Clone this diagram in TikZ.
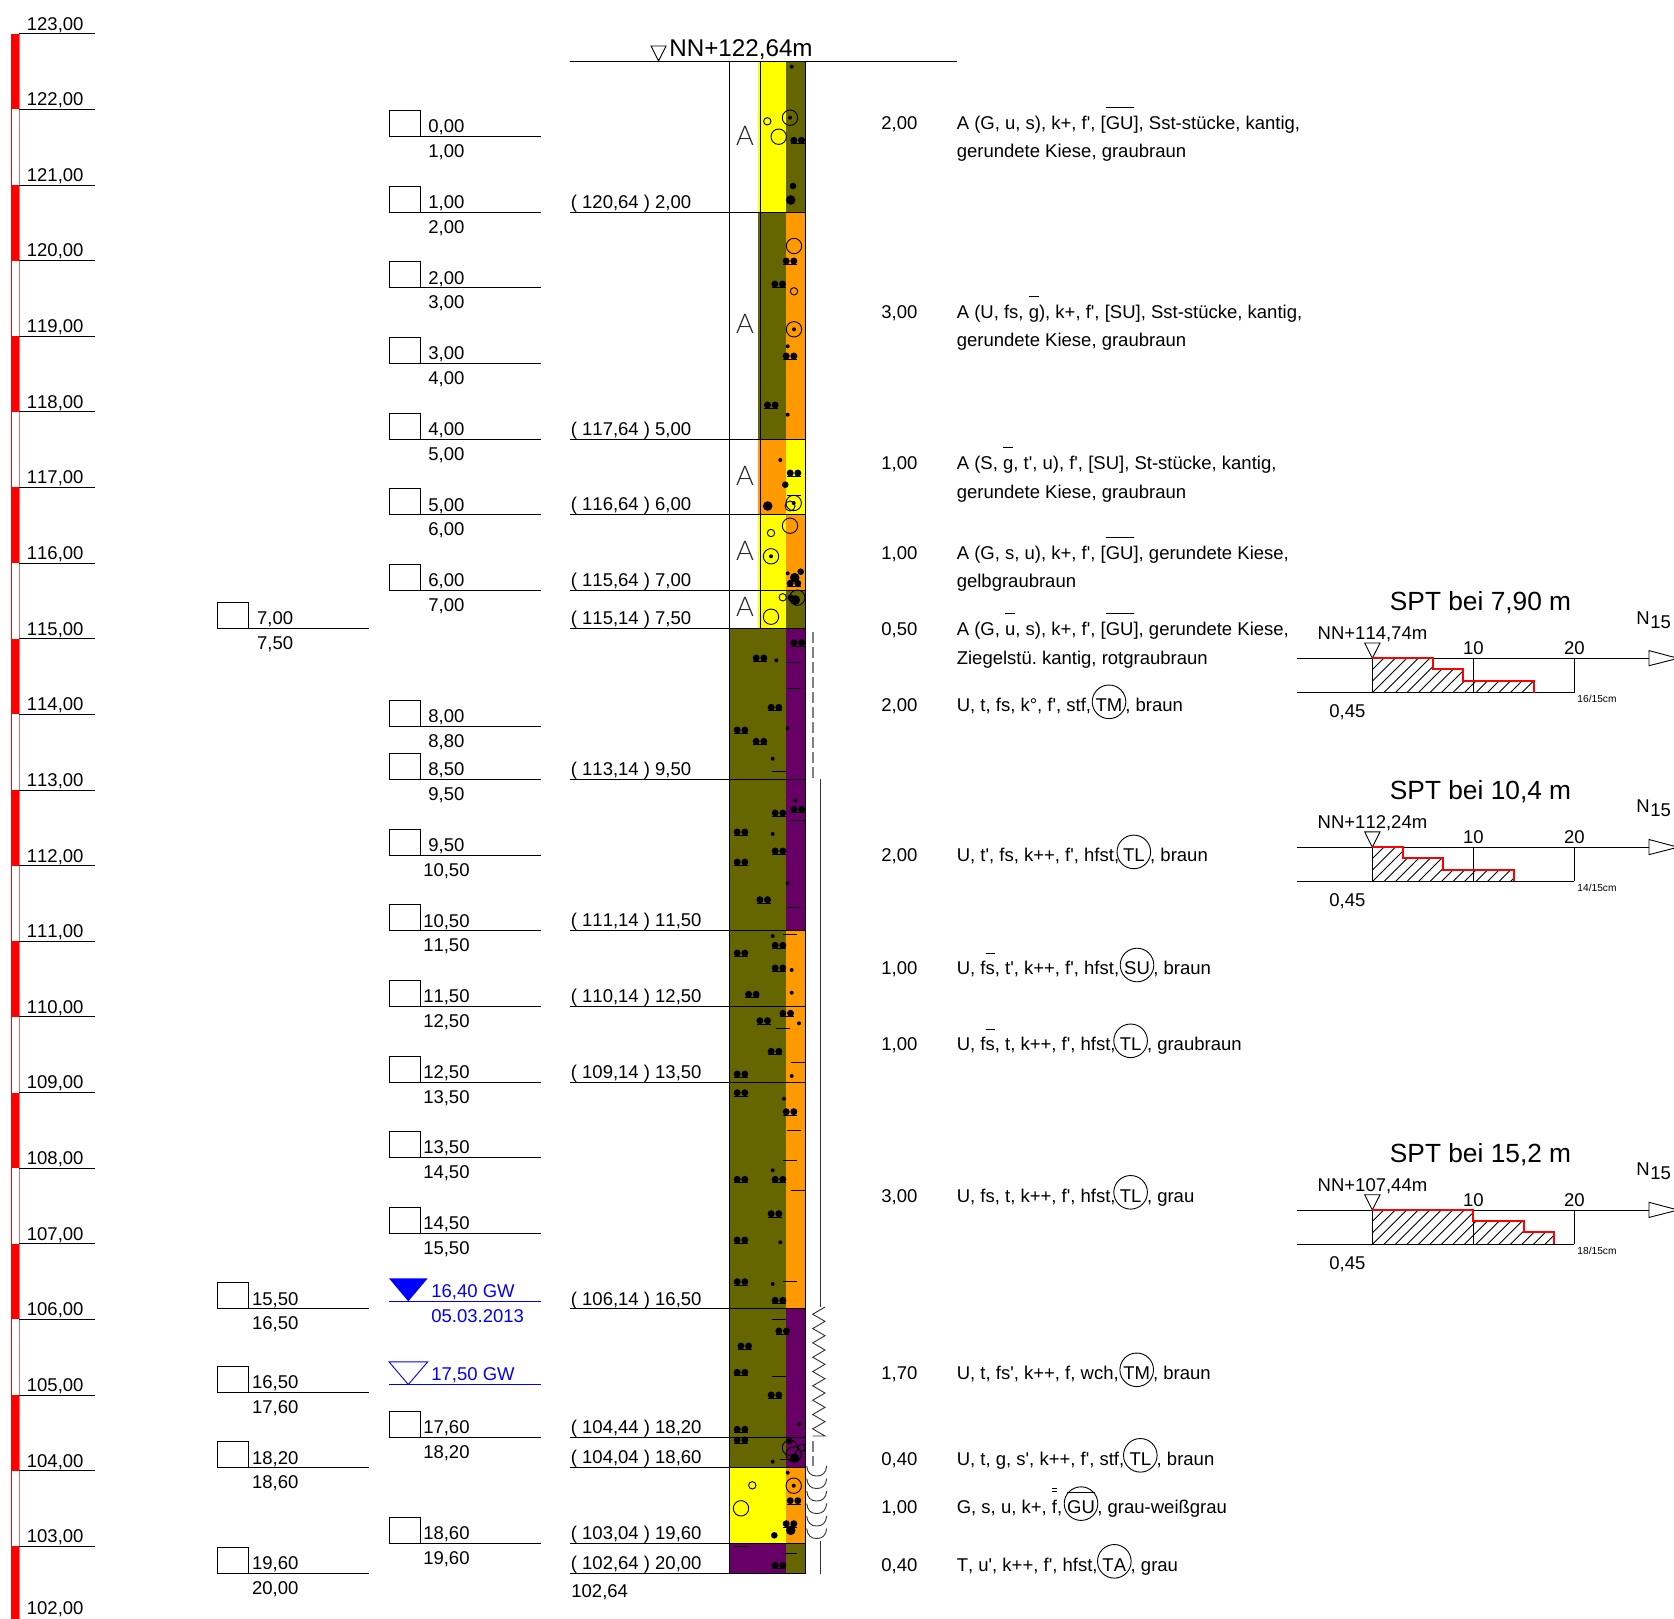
\documentclass[tikz,border=0pt]{standalone}
\usepackage{fontspec}
\newfontfamily\fn[Kerning=Off]{Liberation Sans}
\newfontfamily\thinf{Lato Light}
\definecolor{oli}{RGB}{102,102,0}
\definecolor{org}{RGB}{255,153,0}
\definecolor{yel}{RGB}{255,255,0}
\definecolor{pur}{RGB}{102,0,102}
\definecolor{gwb}{RGB}{0,0,255}
\newcommand\ovl[1]{\leavevmode\setbox0\hbox{#1}\rlap{\raisebox{10.4pt}{\rule{\wd0}{0.4pt}}}\box0}
\newcommand\dovl[1]{\leavevmode\setbox0\hbox{#1}\rlap{\raisebox{10.8pt}{\rule{\wd0}{0.4pt}}}\rlap{\raisebox{12.4pt}{\rule{\wd0}{0.4pt}}}\box0}
\newcommand\smb[2]{\fill (#1,#2) circle [radius=2];}
\newcommand\mdb[2]{\fill (#1,#2) circle [radius=3.3];}
\newcommand\bgb[2]{\fill (#1,#2) circle [radius=4.8];}
\newcommand\ddb[2]{\fill (#1-3.8,#2) circle [radius=3.5]; \fill (#1+3.8,#2) circle [radius=3.5]; \draw[ln] (#1-7,#2+3.4) -- (#1+7,#2+3.4);}
\newcommand\dsh[2]{\draw[ln] (#1-7,#2) -- (#1+7,#2);}
\newcommand\opc[3]{\draw[ln] (#1,#2) circle [radius=#3];}
\newcommand\ctd[2]{\draw[ln] (#1,#2) circle [radius=7.7]; \fill (#1,#2) circle [radius=2];}
% description row with circled symbol
\newcommand\crow[7]{%
  \node[txt] (th#1) at (881,#2) {#3};
  \node[txt] (hd#1) at (956.4,#2) {#4};
  \node[txt,anchor=base] (cl#1) at (#6,#2) {#5};
  \node[cir] (cc#1) at (#6,#2-9.7) {};
  \node[txt] (tl#1) at (#6+16,#2) {#7};}
% SPT diagram
\newcommand\sptd[8]{%
\begin{scope}[shift={(0,#2)}]
  \pgfmathsetmacro\xa{1372.3+10.1*#5}
  \pgfmathsetmacro\xb{1372.3+10.1*#6}
  \pgfmathsetmacro\xc{1372.3+10.1*#7}
  \begin{scope}
    \clip (1372.3,0) -- (\xa,0) -- (\xa,10.8) -- (\xb,10.8) -- (\xb,22.4) -- (\xc,22.4) -- (\xc,34.2) -- (1372.3,34.2) -- cycle;
    \foreach \h in {0,...,21} {\draw[thn] (1338+11.5*\h,34.2) -- (1338+11.5*\h+34.2,0);}
  \end{scope}
  \draw[ln] (1296.7,0) -- (1649,0);
  \draw[ln] (1296.7,34.2) -- (1574.3,34.2);
  \draw[ln] (1372.3,0) -- (1372.3,34.2);
  \draw[ln] (1473.3,0) -- (1473.3,34.2);
  \draw[ln] (1574.3,0) -- (1574.3,34.2);
  \draw[ln] (1649,-7.7) -- (1649,7.4) -- (1678,0) -- cycle;
  \draw[ln] (1364.7,-15.3) -- (1380,-15.3) -- (1372.3,0) -- cycle;
  \draw[red,line width=1pt] (1372.3,0) -- (\xa,0) -- (\xa,10.8) -- (\xb,10.8) -- (\xb,22.4) -- (\xc,22.4) -- (\xc,34.2);
  \node[ttl] (ttl#1) at (1389.5,-47.8) {#3};
  \node[txt] (nn#1) at (1317.3,-18.5) {#4};
  \node[txt,anchor=base] (ten#1) at (1473.3,-4) {10};
  \node[txt,anchor=base] (twy#1) at (1574.3,-4) {20};
  \node[txt] (nq#1) at (1636,-34.3) {N};
  \node[txt] (ns#1) at (1650,-30.3) {15};
  \node[txt] (oh#1) at (1329,59.3) {0,45};
  \node[txt,font=\fn\fontsize{5.1pt}{6pt}\selectfont] (nt#1) at (1577,44.5) {#8};
\end{scope}}
\tikzset{
  ln/.style={black,line width=.45pt},
  thn/.style={black,line width=.4pt},
  txt/.style={inner sep=0pt,anchor=base west,font=\fn\frenchspacing\fontsize{9.25pt}{11pt}\selectfont},
  ttl/.style={inner sep=0pt,anchor=base west,font=\fn\fontsize{13.15pt}{15pt}\selectfont},
  ctr/.style={txt,anchor=base},
  cir/.style={circle,draw=black,line width=.45pt,minimum size=16.8pt,inner sep=0pt},
  blu/.style={txt,text=gwb},
  ltr/.style={inner sep=0pt,anchor=base,font=\thinf\fontsize{13.6pt}{15pt}\selectfont,text=black!85},
  dshl/.style={gray,line width=.8pt,dash pattern=on 5.5pt off 2pt},
  sidel/.style={black!80,line width=.45pt},
}
\begin{document}
\begin{tikzpicture}[x=.5pt,y=-.5pt]
\useasboundingbox (0,0) rectangle (1674,1618);
\clip (0,0) rectangle (1674,1618);
% elevation ruler
\foreach \k in {0,2,...,20} {\fill[red] (11.3,33.7+75.63*\k) rectangle (19.3,33.7+75.63*\k+75.63);}
\draw[red,line width=.5pt] (11.3,33.7) -- (11.3,1625);
\draw[red!60,line width=.5pt] (19.3,33.7) -- (19.3,1625);
\foreach \k in {0,...,20} {
  \pgfmathtruncatemacro\el{123-\k}
  \draw[ln] (19.3,33.7+75.63*\k) -- (95,33.7+75.63*\k);
  \node[txt] (el\k) at (26.5,33.7+75.63*\k-3.6) {\el,00};
}
\node[txt] (el21) at (26.5,1614.6) {102,00};
% sample columns
\foreach \i/\at/\ab/\bt/\bb/\d in {a/0/00/1/00/1,b/1/00/2/00/2,c/2/00/3/00/3,d/3/00/4/00/4,e/4/00/5/00/5,f/5/00/6/00/6,g/6/00/7/00/7,h/8/00/8/80/8.8,i/8/50/9/50/9.5,j/9/50/10/50/10.5,k/10/50/11/50/11.5,l/11/50/12/50/12.5,m/12/50/13/50/13.5,n/13/50/14/50/14.5,o/14/50/15/50/15.5,p/17/60/18/20/18.2,q/18/60/19/60/19.6} {
  \pgfmathsetmacro\Y{61+75.63*\d}
  \draw[ln] (389.3,\Y) -- (541,\Y);
  \draw[ln] (389.3,\Y-26) rectangle (420,\Y);
  \node[ctr] (mt\i) at (446.4,\Y-3.7) {\at,\ab};
  \node[ctr] (mb\i) at (446.4,\Y+21) {\bt,\bb};
}
\foreach \i/\at/\ab/\bt/\bb/\d in {a/7/00/7/50/7.5,b/15/50/16/50/16.5,c/16/50/17/60/17.6,d/18/20/18/60/18.6,e/19/60/20/00/20} {
  \pgfmathsetmacro\Y{61+75.63*\d}
  \draw[ln] (217.3,\Y) -- (369.3,\Y);
  \draw[ln] (217.3,\Y-26) rectangle (248.3,\Y);
  \node[ctr] (lt\i) at (275.2,\Y-3.7) {\at,\ab};
  \node[ctr] (lb\i) at (275.2,\Y+21) {\bt,\bb};
}
% groundwater
\fill[gwb] (389,1278.3) -- (427.7,1278.3) -- (408.3,1301.3) -- cycle;
\draw[gwb,line width=.45pt] (389,1301.3) -- (541,1301.3);
\node[blu] (gw1) at (431,1297.5) {16,40 GW};
\node[blu] (gw2) at (431,1322.5) {05.03.2013};
\draw[gwb,line width=.45pt] (389,1361.8) -- (427.7,1361.8) -- (408.3,1384.5) -- cycle;
\draw[gwb,line width=.45pt] (389,1384.5) -- (541,1384.5);
\node[blu] (gw3) at (431,1380.6) {17,50 GW};
% layer fills
\foreach \da/\db/\ca/\cb in {0/2/yel/oli,2/5/oli/org,5/6/org/yel,6/7/yel/org,7/7.5/yel/oli} {
  \fill[\ca] (758,61+75.63*\da) rectangle (786,61+75.63*\db);
  \fill[\cb] (786,61+75.63*\da) rectangle (805.3,61+75.63*\db);
  \draw[ln] (760,61+75.63*\da) -- (760,61+75.63*\db);
}
\foreach \da/\db/\ca/\cb in {7.5/11.5/oli/pur,11.5/16.5/oli/org,16.5/18.6/oli/pur,18.6/19.6/yel/org,19.6/20/pur/oli} {
  \fill[\ca] (729.5,61+75.63*\da) rectangle (786,61+75.63*\db);
  \fill[\cb] (786,61+75.63*\da) rectangle (805.3,61+75.63*\db);
}
% level table lines
\draw[ln] (570,61) -- (957,61);
\draw[ln] (651,46) -- (666,46) -- (658.5,61) -- cycle;
\node[txt,font=\fn\fontsize{12.1pt}{14pt}\selectfont] (nntop) at (669,56) {NN+122,64m};
\foreach \i/\e/\f/\t/\u/\d in {a/120/64/2/00/2,b/117/64/5/00/5,c/116/64/6/00/6,d/115/64/7/00/7,e/115/14/7/50/7.5,f/113/14/9/50/9.5,g/111/14/11/50/11.5,h/110/14/12/50/12.5,i/109/14/13/50/13.5,j/106/14/16/50/16.5,k/104/44/18/20/18.2,l/104/04/18/60/18.6,m/103/04/19/60/19.6,n/102/64/20/00/20} {
  \pgfmathsetmacro\Y{61+75.63*\d}
  \draw[ln] (570,\Y) -- (805.3,\Y);
  \node[txt] (dp\i) at (570.5,\Y-3.8) {( \e,\f\ ) \t,\u};
}
\node[txt] (botel) at (571,1597.5) {102,64};
% borehole outline
\draw[ln] (729.5,61) -- (729.5,1573.6);
\draw[ln] (805.3,61) -- (805.3,1573.6);
% A letters
\node[ltr] (fa) at (745,145) {A};
\node[ltr] (fb) at (745,333.3) {A};
\node[ltr] (fc) at (745,485) {A};
\node[ltr] (fd) at (745,560.7) {A};
\node[ltr] (fe) at (745,616.7) {A};
% symbols
\foreach \x/\y in {797.7/140.3,790/261,778.7/284,790/356,771.3/405,794/473,794/583.3,797.7/642.7,760/658,775/707.3,741/730,760/741.3,797.7/809.3,779/813,741/832,779/851,741/862,763.7/899.7,779/945.3,741/953,779/968,752.3/994.3,786.7/1013.3,763.7/1020.7,775/1051.3,741/1074,741/1092.7,790/1111.7,741/1179.3,779/1179.3,775/1213.7,741/1240,741/1281.7,779/1300.3,782.7/1331,744.7/1346,741/1372.3,775/1395,741/1429.3,741/1440,794/1500.7,790/1523.7,779/1565.3} {\ddb{\x}{\y}}
\foreach \x/\y in {791.7/66.7,787.7/346.3,787.7/414.7,780.3/460,787.7/573.3,776.3/660.3,787.7/728.3,772.7/758.7,795.3/800.3,772.7/834,787.7/883.3,772.7/936,791.7/970,791.7/992.7,799/1023.3,791.7/1076,784/1098.7,772.7/1170.3,780.3/1242.3,772.7/1284,799/1424,772.7/1461.7,787.7/1472.7} {\smb{\x}{\y}}
\foreach \x/\y in {793/186,785.3/484.7,800.7/571.7,790.7/597.7,789.3/1441,774.3/1535.3} {\mdb{\x}{\y}}
\foreach \x/\y in {790.7/200,767.7/506,794.7/577.7,795.3/600,794.7/1458.3,790.7/1530.3} {\bgb{\x}{\y}}
\foreach \x/\y in {794/662,794/688.3,779/771.3,797.7/820.3,794/907.3,790/934,782.7/1028.3,797.7/1062.3,794/1130.3,790/1160.7,797.7/1190.7,790/1281.7,779/1319.3,779/1376,786.7/1459.3,741/1546,790/1553.7,793.7/495.7} {\dsh{\x}{\y}}
\foreach \x/\y/\r in {767.3/121.3/3.7,778.7/136.7/7.7,794/246/7.7,794/291.3/3.7,790/506/5,790/525.7/7.7,771/533/3.7,782.7/597.3/3.7,797.3/597.7/7.7,771/616.7/7.7,790/1447.7/7.7,801.7/1447.7/3.7,793.7/1454.3/7.7,752.3/1485.3/3.7,741/1508.3/7.7} {\opc{\x}{\y}{\r}}
\foreach \x/\y in {790/117.7,794/329.3,793.7/503,771/556.3,793.7/1485.7} {\ctd{\x}{\y}}
% side symbols
\draw[dshl] (812.7,631.7) -- (812.7,779);
\draw[sidel] (820.7,779) -- (820.7,1307);
\draw[sidel] (825,1307) \foreach \k in {0,...,8} {-- (812.7,1307+14.33*\k+7.2) -- (825,1307+14.33*\k+14.33)} -- (812.7,1436);
\draw[dshl] (812.7,1441) -- (812.7,1466);
\foreach \k in {0,...,5} {
  \draw[sidel] (806.7,1466+12.5*\k) .. controls (807.5,1466+12.5*\k+7) and (811,1466+12.5*\k+10) .. (816.7,1466+12.5*\k+10) .. controls (822.4,1466+12.5*\k+10) and (826,1466+12.5*\k+7) .. (826.7,1466+12.5*\k);
}
\draw[sidel] (820.7,1541) -- (820.7,1574);
% descriptions
\node[txt] (th1) at (881,129) {2,00};
\node[txt] (de1a) at (956.4,129) {A (G, u, s), k+, f', [\ovl{GU}], Sst-stücke, kantig,};
\node[txt] (de1b) at (956.4,157) {gerundete Kiese, graubraun};
\node[txt] (th2) at (881,318) {3,00};
\node[txt] (de2a) at (956.4,318) {A (U, fs, \ovl{g}), k+, f', [SU], Sst-stücke, kantig,};
\node[txt] (de2b) at (956.4,346) {gerundete Kiese, graubraun};
\node[txt] (th3) at (881,469) {1,00};
\node[txt] (de3a) at (956.4,469) {A (S, \ovl{g}, t', u), f', [SU], St-stücke, kantig,};
\node[txt] (de3b) at (956.4,498) {gerundete Kiese, graubraun};
\node[txt] (th4) at (881,559) {1,00};
\node[txt] (de4a) at (956.4,559) {A (G, s, u), k+, f', [\ovl{GU}], gerundete Kiese,};
\node[txt] (de4b) at (956.4,587) {gelbgraubraun};
\node[txt] (th5) at (881,635) {0,50};
\node[txt] (de5a) at (956.4,635) {A (G, \ovl{u}, s), k+, f', [\ovl{GU}], gerundete Kiese,};
\node[txt] (de5b) at (956.4,664) {Ziegelstü. kantig, rotgraubraun};
\crow{r6}{711.5}{2,00}{U, t, fs, k°, f', stf,}{TM}{1109}{, braun}
\crow{r7}{861.6}{2,00}{U, t', fs, k++, f', hfst,}{TL}{1133.8}{, braun}
\crow{r8}{974.7}{1,00}{U, f\ovl{s}, t', k++, f', hfst,}{SU}{1137}{, braun}
\crow{r9}{1050.5}{1,00}{U, f\ovl{s}, t, k++, f', hfst,}{TL}{1130.6}{, graubraun}
\crow{r10}{1202}{3,00}{U, fs, t, k++, f', hfst,}{TL}{1130.6}{, grau}
\crow{r11}{1379.5}{1,70}{U, t, fs', k++, f, wch,}{TM}{1136.7}{, braun}
\crow{r12}{1465}{0,40}{U, t, g, s', k++, f', stf,}{TL}{1140.3}{, braun}
\crow{r13}{1513.3}{1,00}{G, s, u, k+, \dovl{f},}{\ovl{GU}}{1081}{, grau-weißgrau}
\crow{r14}{1571}{0,40}{T, u', k++, f', hfst,}{TA}{1114.3}{, grau}
% SPT
\sptd{a}{658.3}{SPT bei 7,90 m}{NN+114,74m}{6}{9}{16}{16/15cm}
\sptd{b}{847.2}{SPT bei 10,4 m}{NN+112,24m}{3}{7}{14}{14/15cm}
\sptd{c}{1210}{SPT bei 15,2 m}{NN+107,44m}{10}{15}{18}{18/15cm}
\end{tikzpicture}
\end{document}
